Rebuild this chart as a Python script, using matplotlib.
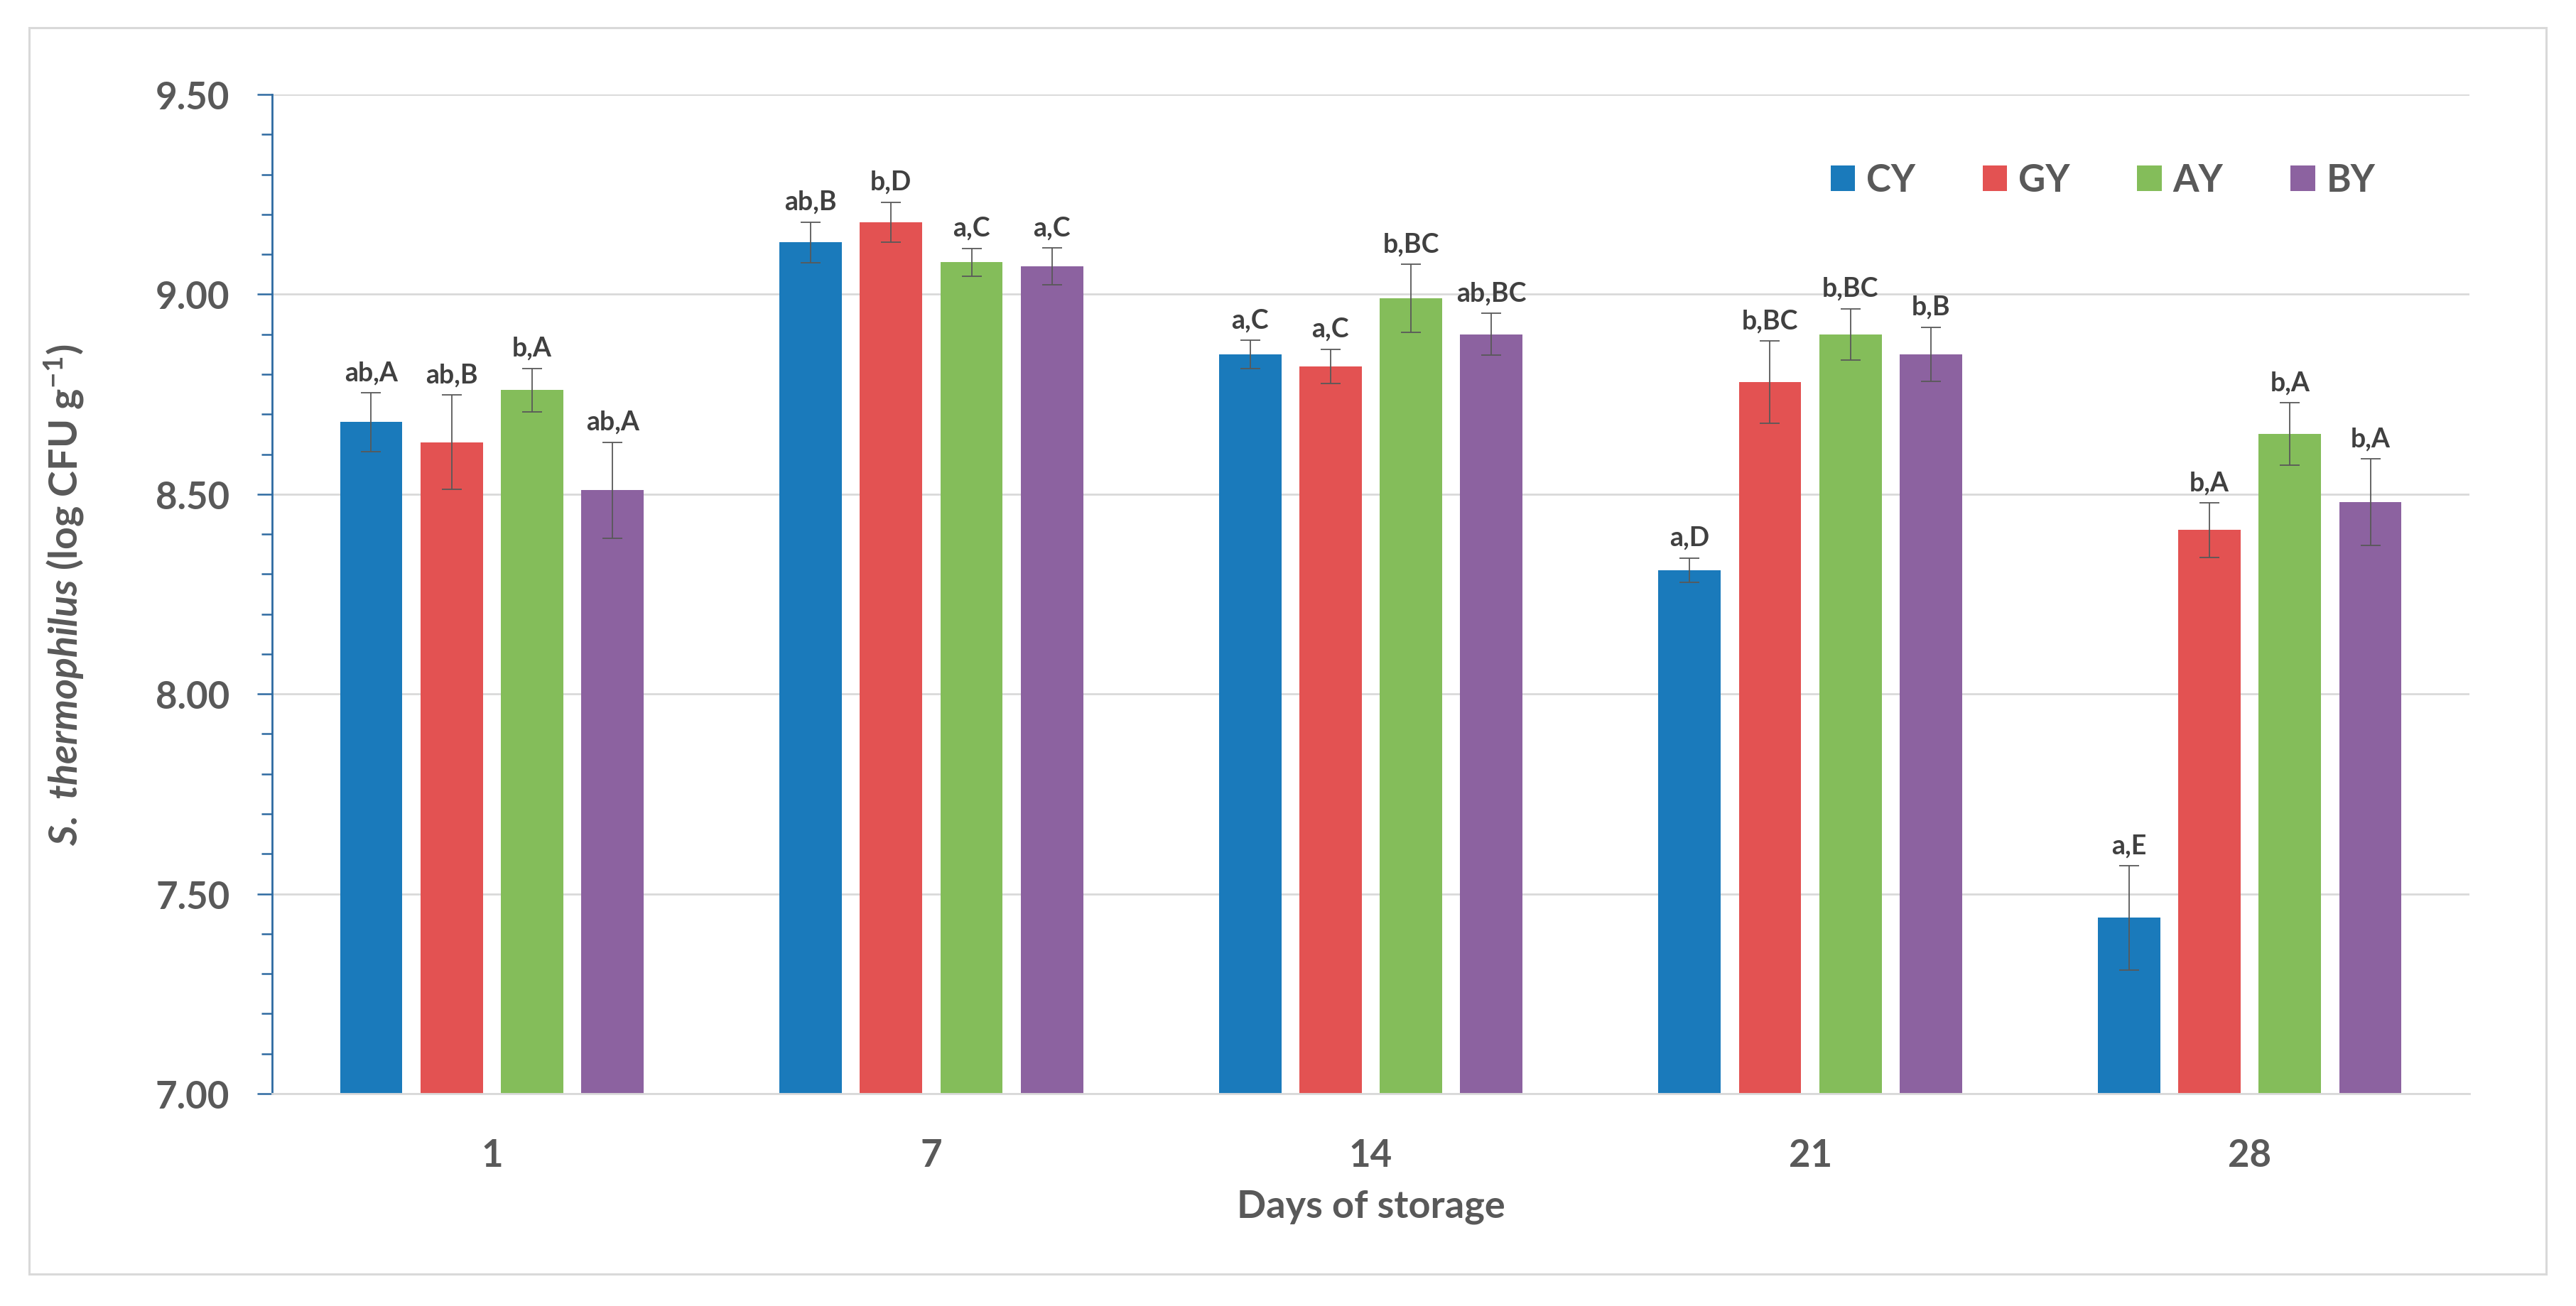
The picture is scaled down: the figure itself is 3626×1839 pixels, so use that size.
import numpy as np
import matplotlib
matplotlib.use("Agg")
import matplotlib.pyplot as plt
from matplotlib.patches import Rectangle
from matplotlib.ticker import MultipleLocator, FormatStrFormatter

# fonts: Lato stands in for Calibri
plt.rcParams['font.family'] = ['Lato', 'DejaVu Sans']
plt.rcParams['mathtext.fontset'] = 'custom'
plt.rcParams['mathtext.it'] = 'Lato:italic:bold'
plt.rcParams['mathtext.rm'] = 'Lato:bold'
plt.rcParams['mathtext.bf'] = 'Lato:bold'

# data
days = ['1', '7', '14', '21', '28']
groups = ['CY', 'GY', 'AY', 'BY']
cy = [8.68, 9.13, 8.85, 8.31, 7.44]
gy = [8.63, 9.18, 8.82, 8.78, 8.41]
ay = [8.76, 9.08, 8.99, 8.90, 8.65]
by = [8.51, 9.07, 8.90, 8.85, 8.48]
cy_err = [0.073, 0.051, 0.035, 0.030, 0.130]
gy_err = [0.118, 0.050, 0.043, 0.103, 0.068]
ay_err = [0.055, 0.035, 0.085, 0.064, 0.078]
by_err = [0.120, 0.046, 0.052, 0.068, 0.108]
cy_lab = ['ab,A', 'ab,B', 'a,C', 'a,D', 'a,E']
gy_lab = ['ab,B', 'b,D', 'a,C', 'b,BC', 'b,A']
ay_lab = ['b,A', 'a,C', 'b,BC', 'b,BC', 'b,A']
by_lab = ['ab,A', 'a,C', 'ab,BC', 'b,B', 'b,A']

colors = ['#1A7ABB', '#E35252', '#84BD5A', '#8C62A0']
grey = '#595959'
axblue = '#2E6AA1'

W, H, DPI = 3626, 1840, 100
fig = plt.figure(figsize=(W / DPI, H / DPI), dpi=DPI)

# light frame round the chart
fig.patches.append(Rectangle((41 / W, 1 - 1795 / H), (3584 - 41) / W, (1795 - 40) / H,
                             transform=fig.transFigure, fill=False,
                             edgecolor='#d9d9d9', linewidth=2.2))

ax = fig.add_axes([383 / W, 1 - 1541 / H, (3476 - 383) / W, (1541 - 134) / H])

x = np.arange(len(days))
pitch = 0.183
width = 0.142
series = [(cy, cy_err, cy_lab), (gy, gy_err, gy_lab), (ay, ay_err, ay_lab), (by, by_err, by_lab)]

for i, (vals, err, labs) in enumerate(series):
    xpos = x + (i - 1.5) * pitch
    ax.bar(xpos, vals, width, color=colors[i], label=groups[i], zorder=2)
    ax.errorbar(xpos, vals, yerr=err, fmt='none', ecolor=grey, elinewidth=1.3,
                capsize=10, capthick=1.3, zorder=3)
    for xp, v, e, t in zip(xpos, vals, err, labs):
        ax.annotate(t, (xp, v + e), xytext=(0, 13), textcoords='offset points',
                    ha='center', va='baseline', fontsize=27, fontweight='bold',
                    color='#404040')

ax.set_xlim(-0.5, len(days) - 0.5)
ax.set_ylim(7.0, 9.5)
ax.set_xticks(x)
ax.set_xticklabels(days)

ax.yaxis.set_major_locator(MultipleLocator(0.5))
ax.yaxis.set_minor_locator(MultipleLocator(0.1))
ax.yaxis.set_major_formatter(FormatStrFormatter('%.2f'))
ax.tick_params(axis='y', which='major', length=15, width=1.8, color=axblue,
               pad=28, labelsize=38, labelcolor=grey)
ax.tick_params(axis='y', which='minor', length=11, width=1.8, color=axblue)
ax.tick_params(axis='x', length=0, pad=45, labelsize=38, labelcolor=grey)
for lab in ax.get_xticklabels() + ax.get_yticklabels():
    lab.set_fontweight('bold')

ax.yaxis.grid(True, color='#d9d9d9', linewidth=2)
ax.set_axisbelow(True)
for s in ['top', 'right']:
    ax.spines[s].set_visible(False)
ax.spines['left'].set_color(axblue)
ax.spines['left'].set_linewidth(2)
ax.spines['bottom'].set_color('#d9d9d9')
ax.spines['bottom'].set_linewidth(2)

ax.set_xlabel('Days of storage', fontsize=39, fontweight='bold', color=grey, va='center')
ax.xaxis.set_label_coords(0.5, -(1700 - 1541) / (1541 - 134))
ax.set_ylabel(r'$\mathit{S.\ thermophilus}$ (log CFU g$^{-1}$)', fontsize=40,
              fontweight='bold', color=grey, va='center')
ax.yaxis.set_label_coords(-(383 - 90) / (3476 - 383), 0.5)

leg = ax.legend(loc='center', bbox_to_anchor=(2960 / W, 1 - 255 / H),
                bbox_transform=fig.transFigure, ncol=4, frameon=False,
                fontsize=38, handlelength=0.65, handleheight=0.65,
                handletextpad=0.3, columnspacing=1.8)
for t in leg.get_texts():
    t.set_color(grey)
    t.set_fontweight('bold')

fig.savefig('out.png', dpi=DPI, facecolor='white')
